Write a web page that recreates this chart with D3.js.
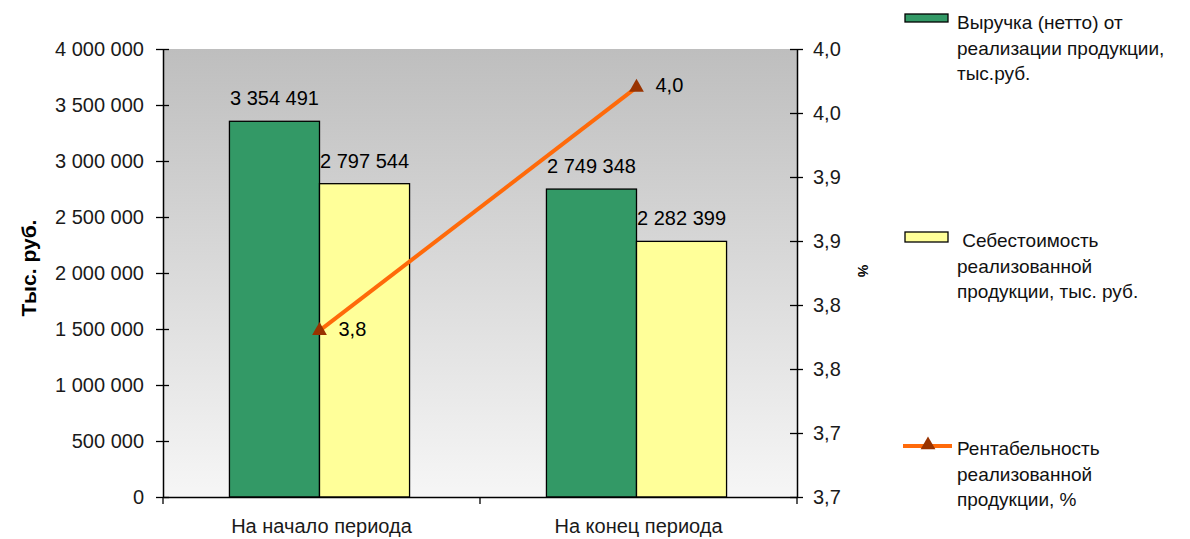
<!DOCTYPE html>
<html>
<head>
<meta charset="utf-8">
<script src="https://cdn.jsdelivr.net/npm/d3@7"></script>
<style>
  body { margin: 0; background: #fff; }
  svg { display: block; font-family: "Liberation Sans", Arial, sans-serif; }
</style>
</head>
<body>
<div id="chart"></div>
<script>
// data
const categories = ['На начало периода', 'На конец периода'];
const revenue = [3354491, 2749348];
const cost = [2797544, 2282399];
const profitability = [3.78, 3.97];
const leftTicks = [0, 500000, 1000000, 1500000, 2000000, 2500000, 3000000, 3500000, 4000000];
const rightTicks = [3.65, 3.70, 3.75, 3.80, 3.85, 3.90, 3.95, 4.00];
const seriesNames = [
  ['Выручка (нетто) от', 'реализации продукции,', 'тыс.руб.'],
  ['\u00a0Себестоимость', 'реализованной', 'продукции, тыс. руб.'],
  ['Рентабельность', 'реализованной', 'продукции, %'],
];

const W = 1190, H = 539;
const plot = { left: 163, right: 797, top: 49, bottom: 497 };

const svg = d3.select('#chart').append('svg')
  .attr('width', W)
  .attr('height', H);

const defs = svg.append('defs');
const grad = defs.append('linearGradient')
  .attr('id', 'bg')
  .attr('x1', 0).attr('y1', 0).attr('x2', 0).attr('y2', 1);
grad.append('stop').attr('offset', '0%').attr('stop-color', '#bebebe');
grad.append('stop').attr('offset', '100%').attr('stop-color', '#f6f6f6');

const x0 = d3.scaleBand().domain(categories).range([plot.left, plot.right]);
const x1 = d3.scaleBand().domain(['rev', 'cost'])
  .range([0, x0.bandwidth()])
  .paddingInner(0)
  .paddingOuter(0.76);
const yL = d3.scaleLinear().domain([0, 4000000]).range([plot.bottom, plot.top]);
const yR = d3.scaleLinear().domain([3.65, 4.0]).range([plot.bottom, plot.top]);

const fmtBig = v => d3.format(',')(v).replace(/,/g, ' ');
const fmtPct = v => (Math.round(v * 10) / 10).toFixed(1).replace('.', ',');
const shift = -2; // Excel draws the groups slightly left of centre

svg.append('rect')
  .attr('x', plot.left)
  .attr('y', plot.top)
  .attr('width', plot.right - plot.left)
  .attr('height', plot.bottom - plot.top)
  .attr('fill', 'url(#bg)');

// bars
const bars = [
  { key: 'rev', values: revenue, color: '#339966' },
  { key: 'cost', values: cost, color: '#ffff99' },
];

bars.forEach((s) => {
  const g = svg.append('g');
  g.selectAll('rect')
    .data(s.values)
    .enter()
    .append('rect')
    .attr('x', (d, i) => x0(categories[i]) + x1(s.key) + shift)
    .attr('y', d => yL(d))
    .attr('width', x1.bandwidth())
    .attr('height', d => plot.bottom - yL(d))
    .attr('fill', s.color)
    .attr('stroke', '#000')
    .attr('stroke-width', 1.3);
});

bars.forEach((s) => {
  svg.append('g').selectAll('text')
    .data(s.values)
    .enter()
    .append('text')
    .attr('x', (d, i) => x0(categories[i]) + x1(s.key) + x1.bandwidth() / 2 + shift)
    .attr('y', d => yL(d) - 16)
    .attr('text-anchor', 'middle')
    .attr('font-size', 20)
    .attr('fill', '#000')
    .text(d => fmtBig(d));
});

// axes
const axisL = d3.axisLeft(yL).tickValues(leftTicks).tickFormat(fmtBig)
  .tickSizeInner(7).tickSizeOuter(0).tickPadding(12);
const gL = svg.append('g')
  .attr('transform', `translate(${plot.left},0)`)
  .call(axisL);
gL.selectAll('.tick line').attr('x2', -7).attr('x1', 6);

const axisR = d3.axisRight(yR).tickValues(rightTicks).tickFormat(fmtPct)
  .tickSizeInner(6).tickSizeOuter(0).tickPadding(10);
const gR = svg.append('g')
  .attr('transform', `translate(${plot.right},0)`)
  .call(axisR);
gR.selectAll('.tick line').attr('x1', -7).attr('x2', 6);

const axisB = d3.axisBottom(x0).tickSize(0).tickPadding(22);
const gB = svg.append('g')
  .attr('transform', `translate(0,${plot.bottom})`)
  .call(axisB);

// category separator ticks
svg.append('g').selectAll('line')
  .data([plot.left, x0(categories[1]), plot.right])
  .enter()
  .append('line')
  .attr('x1', d => d).attr('x2', d => d)
  .attr('y1', plot.bottom).attr('y2', plot.bottom + 7)
  .attr('stroke', '#000')
  .attr('stroke-width', 1.3);

[gL, gR, gB].forEach((g) => {
  g.selectAll('path.domain').attr('stroke', '#000').attr('stroke-width', 1.5);
  g.selectAll('.tick line').attr('stroke', '#000').attr('stroke-width', 1.3);
  g.selectAll('text')
    .attr('font-size', 20)
    .attr('fill', '#1a1a1a')
    .attr('font-family', '"Liberation Sans", Arial, sans-serif');
});

// axis titles
svg.append('text')
  .attr('transform', 'translate(36,268) rotate(-90)')
  .attr('text-anchor', 'middle')
  .attr('font-size', 21)
  .attr('font-weight', 'bold')
  .text('Тыс. руб.');

svg.append('text')
  .attr('transform', 'translate(858,271) rotate(90)')
  .attr('text-anchor', 'middle')
  .attr('font-size', 14)
  .attr('font-weight', 'bold')
  .text('%');

// line
const cx = c => x0(c) + x0.bandwidth() / 2 + shift;
const line = d3.line()
  .x((d, i) => cx(categories[i]))
  .y(d => yR(d));

svg.append('path')
  .datum(profitability)
  .attr('d', line)
  .attr('fill', 'none')
  .attr('stroke', '#ff6a0a')
  .attr('stroke-width', 4);

const tri = d3.symbol().type(d3.symbolTriangle).size(95);
svg.append('g').selectAll('path')
  .data(profitability)
  .enter()
  .append('path')
  .attr('d', tri)
  .attr('transform', (d, i) => `translate(${cx(categories[i])},${yR(d)})`)
  .attr('fill', '#993300');

svg.append('g').selectAll('text')
  .data(profitability)
  .enter()
  .append('text')
  .attr('x', (d, i) => cx(categories[i]) + 19)
  .attr('y', d => yR(d) + 5)
  .attr('font-size', 20)
  .text(d => fmtPct(d));

// legend
const legend = svg.append('g');
const legendY = [29, 247, 455];
const rowH = 25.5;

legend.append('rect')
  .attr('x', 905).attr('y', 14).attr('width', 43).attr('height', 8)
  .attr('fill', '#339966').attr('stroke', '#000').attr('stroke-width', 1.3);
legend.append('rect')
  .attr('x', 905).attr('y', 232).attr('width', 43).attr('height', 10)
  .attr('fill', '#ffff99').attr('stroke', '#000').attr('stroke-width', 1.3);
legend.append('line')
  .attr('x1', 903).attr('x2', 952).attr('y1', 446).attr('y2', 446)
  .attr('stroke', '#ff6a0a').attr('stroke-width', 4);
legend.append('path')
  .attr('d', tri)
  .attr('transform', 'translate(928,445)')
  .attr('fill', '#993300');

seriesNames.forEach((lines, k) => {
  legend.append('g').selectAll('text')
    .data(lines)
    .enter()
    .append('text')
    .attr('x', 957)
    .attr('y', (d, i) => legendY[k] + i * rowH)
    .attr('font-size', 19)
    .attr('fill', '#111')
    .text(d => d);
});
</script>
</body>
</html>
